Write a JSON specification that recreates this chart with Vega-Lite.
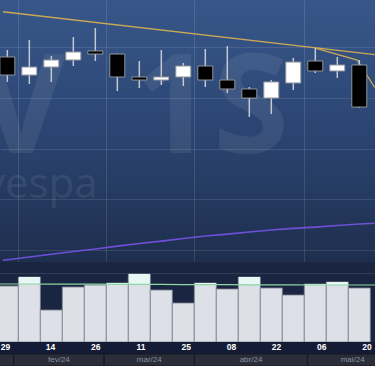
{
  "$schema": "https://vega.github.io/schema/vega-lite/v6.json",
  "padding": 0,
  "background": "#131b35",
  "spacing": 0,
  "config": {
    "view": {"stroke": null},
    "concat": {"spacing": 0},
    "axis": {"minExtent": 0, "maxExtent": 0, "labelPadding": 0, "tickSize": 0, "offset": 0, "titlePadding": 0}
  },
  "datasets": {
    "candles": [
      {"i": 0, "semana": "2024-01-29", "open": 129020, "high": 129710, "low": 126560, "close": 127240},
      {"i": 1, "semana": "2024-02-05", "open": 127240, "high": 130690, "low": 126360, "close": 128030},
      {"i": 2, "semana": "2024-02-14", "open": 128030, "high": 129110, "low": 126560, "close": 128720},
      {"i": 3, "semana": "2024-02-19", "open": 128720, "high": 130980, "low": 128130, "close": 129510},
      {"i": 4, "semana": "2024-02-26", "open": 129610, "high": 131870, "low": 128620, "close": 129310},
      {"i": 5, "semana": "2024-03-04", "open": 129310, "high": 129360, "low": 125670, "close": 127050},
      {"i": 6, "semana": "2024-03-11", "open": 127050, "high": 128620, "low": 125960, "close": 126750},
      {"i": 7, "semana": "2024-03-18", "open": 126750, "high": 129710, "low": 126260, "close": 127050},
      {"i": 8, "semana": "2024-03-25", "open": 127050, "high": 128430, "low": 126160, "close": 128130},
      {"i": 9, "semana": "2024-04-01", "open": 128130, "high": 129800, "low": 126060, "close": 126750},
      {"i": 10, "semana": "2024-04-08", "open": 126750, "high": 130100, "low": 125470, "close": 125870},
      {"i": 11, "semana": "2024-04-15", "open": 125870, "high": 126060, "low": 123110, "close": 124980},
      {"i": 12, "semana": "2024-04-22", "open": 124980, "high": 126750, "low": 123400, "close": 126560},
      {"i": 13, "semana": "2024-04-29", "open": 126460, "high": 128920, "low": 125770, "close": 128520},
      {"i": 14, "semana": "2024-05-06", "open": 128620, "high": 129900, "low": 127440, "close": 127640},
      {"i": 15, "semana": "2024-05-13", "open": 127640, "high": 129020, "low": 126950, "close": 128230},
      {"i": 16, "semana": "2024-05-20", "open": 128230, "high": 128720, "low": 124000, "close": 124090}
    ],
    "trend": [
      {"linha": "A", "i": -0.2, "preco": 133470},
      {"linha": "A", "i": 16.7, "preco": 129260},
      {"linha": "B", "i": 14, "preco": 129900},
      {"linha": "B", "i": 15.91, "preco": 128720},
      {"linha": "B", "i": 16.7, "preco": 126030}
    ],
    "mma": [
      {"i": -0.2, "mm": 109010},
      {"i": 0, "mm": 109060},
      {"i": 1, "mm": 109330},
      {"i": 2, "mm": 109600},
      {"i": 3, "mm": 109870},
      {"i": 4, "mm": 110120},
      {"i": 5, "mm": 110410},
      {"i": 6, "mm": 110660},
      {"i": 7, "mm": 110900},
      {"i": 8, "mm": 111150},
      {"i": 9, "mm": 111400},
      {"i": 10, "mm": 111590},
      {"i": 11, "mm": 111790},
      {"i": 12, "mm": 111990},
      {"i": 13, "mm": 112150},
      {"i": 14, "mm": 112280},
      {"i": 15, "mm": 112430},
      {"i": 16, "mm": 112580},
      {"i": 16.7, "mm": 112650}
    ],
    "volume": [
      {"i": -1, "vol": null, "mmv": 145},
      {"i": 0, "vol": 140, "mmv": 145},
      {"i": 1, "vol": 162.5, "mmv": 145},
      {"i": 2, "vol": 80, "mmv": 144.5},
      {"i": 3, "vol": 137.5, "mmv": 144.5},
      {"i": 4, "vol": 142.5, "mmv": 144.5},
      {"i": 5, "vol": 147.5, "mmv": 144},
      {"i": 6, "vol": 170, "mmv": 144},
      {"i": 7, "vol": 130, "mmv": 144},
      {"i": 8, "vol": 97.5, "mmv": 143.5},
      {"i": 9, "vol": 147.5, "mmv": 143.5},
      {"i": 10, "vol": 132.5, "mmv": 143.5},
      {"i": 11, "vol": 162.5, "mmv": 143},
      {"i": 12, "vol": 135, "mmv": 143},
      {"i": 13, "vol": 117.5, "mmv": 143},
      {"i": 14, "vol": 145, "mmv": 142.5},
      {"i": 15, "vol": 150, "mmv": 142.5},
      {"i": 16, "vol": 135, "mmv": 142.5},
      {"i": 17, "vol": null, "mmv": 142.5}
    ],
    "days": [
      {"i": 0, "dia": "29"},
      {"i": 2, "dia": "14"},
      {"i": 4, "dia": "26"},
      {"i": 6, "dia": "11"},
      {"i": 8, "dia": "25"},
      {"i": 10, "dia": "08"},
      {"i": 12, "dia": "22"},
      {"i": 14, "dia": "06"},
      {"i": 16, "dia": "20"}
    ],
    "months": [
      {"mes": "jan/24", "a": -1, "b": 0.5, "rotulo": false},
      {"mes": "fev/24", "a": 0.5, "b": 4.5, "rotulo": true},
      {"mes": "mar/24", "a": 4.5, "b": 8.5, "rotulo": true},
      {"mes": "abr/24", "a": 8.5, "b": 13.5, "rotulo": true},
      {"mes": "mai/24", "a": 13.5, "b": 17.5, "rotulo": true}
    ],
    "marca": [
      {"t": "IBOV", "tipo": "grande", "i": 2.68, "preco": 119570},
      {"t": "1S", "tipo": "grande", "i": 12.8, "preco": 119570},
      {"t": "Ibovespa", "tipo": "pequena", "i": 4.1, "preco": 115140}
    ]
  },
  "vconcat": [
    {
      "width": 375,
      "height": 262,
      "view": {
        "stroke": null,
        "fill": {
          "gradient": "linear", "x1": 0, "y1": 0, "x2": 0, "y2": 1,
          "stops": [
            {"offset": 0, "color": "#37578a"},
            {"offset": 0.5, "color": "#2b4572"},
            {"offset": 1, "color": "#1e2e4d"}
          ]
        }
      },
      "layer": [
        {
          "data": {"name": "marca"},
          "transform": [{"filter": "datum.tipo === 'grande'"}],
          "mark": {"type": "text", "align": "right", "baseline": "alphabetic", "font": "Open Sans", "fontWeight": "bold", "fontSize": 138, "color": "#ffffff", "opacity": 0.07, "clip": true},
          "encoding": {
            "x": {"field": "i", "type": "quantitative", "scale": {"domain": [-0.106, 16.487], "nice": false, "zero": false},
                  "axis": {"grid": true, "labels": false, "ticks": false, "domain": false, "title": null, "values": [0.5, 4.5, 8.5, 13.5], "gridColor": "#ffffff", "gridOpacity": 0.12}},
            "y": {"field": "preco", "type": "quantitative", "scale": {"domain": [108844, 134625], "nice": false, "zero": false},
                  "axis": {"grid": true, "labels": false, "ticks": false, "domain": false, "title": null, "values": [110000, 112500, 115000, 117500, 120000, 122500, 125000, 127500, 130000, 132500], "gridColor": "#ffffff", "gridOpacity": 0.11}},
            "text": {"field": "t"}
          }
        },
        {
          "data": {"name": "marca"},
          "transform": [{"filter": "datum.tipo === 'pequena'"}],
          "mark": {"type": "text", "align": "right", "baseline": "alphabetic", "font": "Open Sans", "fontSize": 42, "color": "#ffffff", "opacity": 0.07, "clip": true},
          "encoding": {
            "x": {"field": "i", "type": "quantitative"},
            "y": {"field": "preco", "type": "quantitative"},
            "text": {"field": "t"}
          }
        },
        {
          "data": {"name": "mma"},
          "mark": {"type": "line", "color": "#6d50d6", "strokeWidth": 1.6, "clip": true},
          "encoding": {
            "x": {"field": "i", "type": "quantitative"},
            "y": {"field": "mm", "type": "quantitative"}
          }
        },
        {
          "data": {"name": "trend"},
          "mark": {"type": "line", "color": "#c9a957", "strokeWidth": 1.3, "clip": true},
          "encoding": {
            "x": {"field": "i", "type": "quantitative"},
            "y": {"field": "preco", "type": "quantitative"},
            "detail": {"field": "linha"}
          }
        },
        {
          "data": {"name": "candles"},
          "mark": {"type": "rule", "color": "#c3c8d1", "strokeWidth": 1.5, "clip": true},
          "encoding": {
            "x": {"field": "i", "type": "quantitative"},
            "y": {"field": "low", "type": "quantitative"},
            "y2": {"field": "high"}
          }
        },
        {
          "data": {"name": "candles"},
          "mark": {"type": "bar", "size": 15, "stroke": "#8f949d", "strokeWidth": 1, "clip": true},
          "encoding": {
            "x": {"field": "i", "type": "quantitative"},
            "y": {"field": "open", "type": "quantitative"},
            "y2": {"field": "close"},
            "color": {"condition": {"test": "datum.close >= datum.open", "value": "#ffffff"}, "value": "#000000"}
          }
        }
      ]
    },
    {
      "width": 375,
      "height": 80,
      "view": {"stroke": null, "fill": "#1a2641"},
      "data": {"name": "volume"},
      "layer": [
        {
          "mark": {"type": "bar", "size": 22, "color": "#dde0e7", "stroke": "#7d828e", "strokeWidth": 0.8, "clip": true},
          "encoding": {
            "x": {"field": "i", "type": "quantitative", "scale": {"domain": [-0.106, 16.487], "nice": false, "zero": false}, "axis": null},
            "y": {"field": "vol", "type": "quantitative", "scale": {"domain": [0, 200], "nice": false},
                  "axis": {"grid": true, "labels": false, "ticks": false, "domain": false, "title": null, "values": [172.5], "gridColor": "#ffffff", "gridOpacity": 0.1}}
          }
        },
        {
          "transform": [{"filter": "datum.vol != null && datum.vol > datum.mmv"}],
          "mark": {"type": "bar", "size": 21, "color": "#e6f7f4", "clip": true},
          "encoding": {
            "x": {"field": "i", "type": "quantitative"},
            "y": {"field": "vol", "type": "quantitative"},
            "y2": {"field": "mmv"}
          }
        },
        {
          "mark": {"type": "line", "color": "#8fd6a4", "strokeWidth": 1.2, "clip": true},
          "encoding": {
            "x": {"field": "i", "type": "quantitative"},
            "y": {"field": "mmv", "type": "quantitative"}
          }
        }
      ]
    },
    {
      "width": 375,
      "height": 24,
      "layer": [
        {
          "data": {"name": "months"},
          "mark": {"type": "rect", "color": "#2b2d38", "stroke": "#171a24", "strokeWidth": 1.2, "clip": true},
          "encoding": {
            "x": {"field": "a", "type": "quantitative", "scale": {"domain": [-0.106, 16.487], "nice": false, "zero": false}, "axis": null},
            "x2": {"field": "b"},
            "y": {"datum": "mes", "type": "nominal", "scale": {"type": "band", "domain": ["dia", "mes"], "paddingInner": 0, "paddingOuter": 0}, "axis": null}
          }
        },
        {
          "data": {"name": "months"},
          "transform": [{"filter": "datum.rotulo"}, {"calculate": "(datum.a + datum.b) / 2", "as": "meio"}],
          "mark": {"type": "text", "font": "Liberation Sans", "fontSize": 8, "color": "#8a90a0", "baseline": "middle"},
          "encoding": {
            "x": {"field": "meio", "type": "quantitative"},
            "y": {"datum": "mes", "type": "nominal"},
            "text": {"field": "mes"}
          }
        },
        {
          "data": {"name": "days"},
          "mark": {"type": "text", "font": "Liberation Sans", "fontWeight": "bold", "fontSize": 8.5, "color": "#ffffff", "baseline": "middle", "dx": 3, "dy": -1},
          "encoding": {
            "x": {"field": "i", "type": "quantitative"},
            "y": {"datum": "dia", "type": "nominal"},
            "text": {"field": "dia"}
          }
        }
      ]
    }
  ]
}
